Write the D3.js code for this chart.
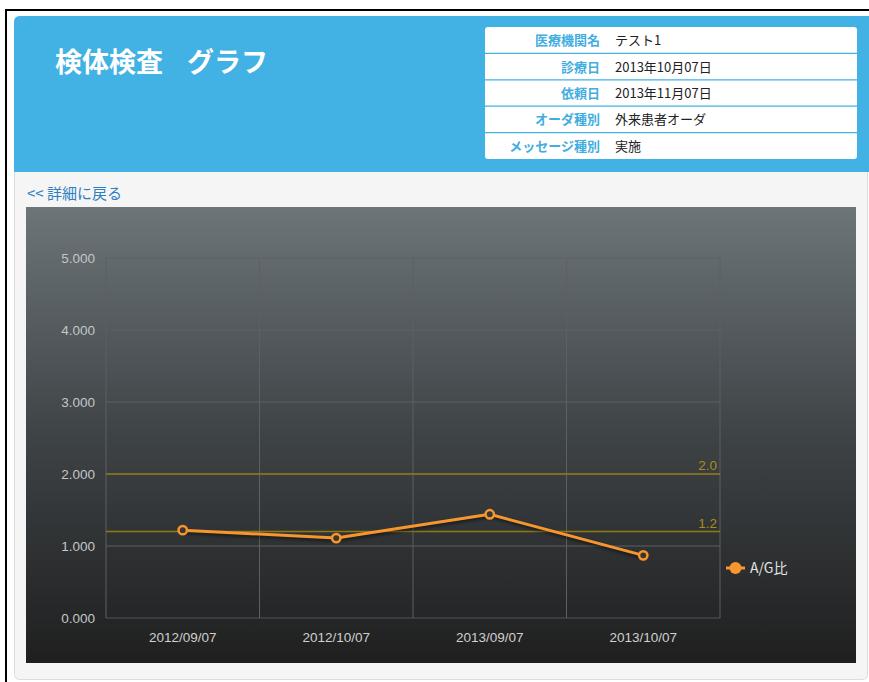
<!DOCTYPE html>
<html lang="ja">
<head>
<meta charset="utf-8">
<script src="https://cdn.jsdelivr.net/npm/d3@7"></script>
<style>
  body { margin: 0; background: #fff; }
  svg { display: block; }
  .jp { font-family: "Noto Sans CJK JP", "Liberation Sans", sans-serif; }
  .num { font-family: "Liberation Sans", Arial, sans-serif; }
</style>
</head>
<body>
<div id="page"></div>
<script>
// ---- data ----
const dates = ["2012/09/07", "2012/10/07", "2013/09/07", "2013/10/07"];
const agRatio = [1.22, 1.11, 1.44, 0.87];
const seriesName = "A/G比";
const yTicks = [0, 1, 2, 3, 4, 5];
const refLines = [2.0, 1.2];
const infoLabels = ["医療機関名", "診療日", "依頼日", "オーダ種別", "メッセージ種別"];
const infoValues = ["テスト1", "2013年10月07日", "2013年11月07日", "外来患者オーダ", "実施"];

const W = 869, H = 682;
const svg = d3.select('#page').append('svg')
  .attr('width', W).attr('height', H);

const defs = svg.append('defs');
const grad = defs.append('linearGradient')
  .attr('id', 'bg').attr('x1', 0).attr('y1', 0).attr('x2', 0).attr('y2', 1);
grad.append('stop').attr('offset', '0%').attr('stop-color', '#6d7578');
grad.append('stop').attr('offset', '50%').attr('stop-color', '#3e4346');
grad.append('stop').attr('offset', '100%').attr('stop-color', '#1f1f1f');

const blur = defs.append('filter').attr('id', 'shadow')
  .attr('x', '-10%').attr('y', '-50%').attr('width', '120%').attr('height', '200%');
blur.append('feGaussianBlur').attr('stdDeviation', 1.5);

// outer frame
svg.append('rect').attr('x', 6).attr('y', 10).attr('width', 900).attr('height', 700)
  .attr('fill', 'none').attr('stroke', '#000').attr('stroke-width', 2);

// panel
svg.append('rect').attr('x', 14.5).attr('y', 16.5).attr('width', 853).attr('height', 663)
  .attr('rx', 5).attr('fill', '#f5f5f5').attr('stroke', '#dcdcdc');

// blue header
svg.append('path')
  .attr('d', 'M14,172 V22 Q14,16 20,16 H869 V172 Z')
  .attr('fill', '#42b1e3');

const title = svg.append('text').attr('class', 'jp')
  .attr('x', 55).attr('y', 72)
  .attr('fill', '#fff').attr('font-size', 27).attr('font-weight', 'bold');
title.append('tspan').text('検体検査');
title.append('tspan').attr('x', 187).text('グラフ');

// info table
const tX = 485, tY = 27, tW = 372, rowH = 26.4;
svg.append('rect').attr('x', tX).attr('y', tY).attr('width', tW).attr('height', rowH * infoLabels.length)
  .attr('rx', 3).attr('fill', '#fff');

const rows = svg.append('g').selectAll('g')
  .data(infoLabels)
  .join('g')
  .attr('transform', (d, i) => `translate(0,${tY + i * rowH})`);

rows.filter((d, i) => i > 0).append('line')
  .attr('x1', tX).attr('x2', tX + tW).attr('y1', 0).attr('y2', 0)
  .attr('stroke', '#42b1e3').attr('stroke-width', 1.2);

rows.append('text').attr('class', 'jp')
  .attr('x', 600).attr('y', rowH / 2 + 5)
  .attr('text-anchor', 'end').attr('font-size', 13).attr('font-weight', 'bold')
  .attr('fill', '#42aee0')
  .text(d => d);

rows.append('text').attr('class', 'jp')
  .attr('x', 615).attr('y', rowH / 2 + 5)
  .attr('font-size', 13).attr('fill', '#222')
  .text((d, i) => infoValues[i]);

// back link
svg.append('text').attr('class', 'jp')
  .attr('x', 27).attr('y', 199)
  .attr('font-size', 15).attr('fill', '#2f7fc4')
  .text('<< 詳細に戻る');

// chart background
svg.append('rect').attr('x', 26).attr('y', 207).attr('width', 830).attr('height', 456)
  .attr('fill', 'url(#bg)');

// scales
const x = d3.scaleBand().domain(dates).range([106, 720]);
const y = d3.scaleLinear().domain([0, 5]).range([618, 258]);

const grid = svg.append('g');
// horizontal grid
grid.selectAll('.hg').data(yTicks).join('line')
  .attr('x1', 106).attr('x2', 720)
  .attr('y1', d => y(d)).attr('y2', d => y(d))
  .attr('stroke', d => d === 0 ? '#4f5457' : '#5b6164').attr('stroke-width', 1);
// vertical grid on band edges
const edges = dates.map(d => x(d)).concat([x.range()[1]]);
grid.selectAll('.vg').data(edges).join('line')
  .attr('x1', d => d).attr('x2', d => d)
  .attr('y1', 258).attr('y2', 618)
  .attr('stroke', '#5a6063').attr('stroke-width', 1);

// y axis labels
const yAxis = svg.append('g').attr('transform', 'translate(95,0)')
  .call(d3.axisLeft(y).tickValues(yTicks).tickFormat(d3.format('.3f')).tickSize(0).tickPadding(0));
yAxis.select('.domain').remove();
yAxis.selectAll('text').attr('class', 'num')
  .attr('font-size', 13.5).attr('fill', '#c4c6c7').attr('dy', '0.35em');

// x axis labels
const xAxis = svg.append('g').attr('transform', 'translate(0,632)')
  .call(d3.axisBottom(x).tickSize(0).tickPadding(0));
xAxis.select('.domain').remove();
xAxis.selectAll('text').attr('class', 'num')
  .attr('font-size', 13.5).attr('fill', '#cfd0d0');

// reference lines
const refs = svg.append('g').selectAll('g').data(refLines).join('g');
refs.append('line')
  .attr('x1', 106).attr('x2', 720)
  .attr('y1', d => y(d)).attr('y2', d => y(d))
  .attr('stroke', '#8f7a14').attr('stroke-width', 1.5);
refs.append('text').attr('class', 'num')
  .attr('x', 717).attr('y', d => y(d) - 4)
  .attr('text-anchor', 'end').attr('font-size', 13.5).attr('fill', '#a88d1e')
  .text(d => d.toFixed(1));

// series line
const cx = d => x(d) + x.bandwidth() / 2;
const line = d3.line().x((d, i) => cx(dates[i])).y(d => y(d));

svg.append('path').datum(agRatio)
  .attr('d', line)
  .attr('transform', 'translate(1,2)')
  .attr('fill', 'none').attr('stroke', '#000').attr('stroke-opacity', 0.45)
  .attr('stroke-width', 4).attr('filter', 'url(#shadow)');

svg.append('path').datum(agRatio)
  .attr('d', line)
  .attr('fill', 'none').attr('stroke', '#f7962f').attr('stroke-width', 3)
  .attr('stroke-linejoin', 'round');

svg.append('g').selectAll('circle').data(agRatio).join('circle')
  .attr('cx', (d, i) => cx(dates[i])).attr('cy', d => y(d))
  .attr('r', 4.2).attr('fill', '#3a3530')
  .attr('stroke', '#f7962f').attr('stroke-width', 2.5);

// legend
const lg = svg.append('g').attr('transform', 'translate(726,568)');
lg.append('line').attr('x1', 0).attr('x2', 19).attr('y1', 0).attr('y2', 0)
  .attr('stroke', '#f7962f').attr('stroke-width', 3);
lg.append('circle').attr('cx', 9.5).attr('cy', 0).attr('r', 6).attr('fill', '#f7962f');
lg.append('text').attr('class', 'jp')
  .attr('x', 24).attr('y', 5)
  .attr('font-size', 14).attr('fill', '#e4e4e4')
  .text(seriesName);
</script>
</body>
</html>
